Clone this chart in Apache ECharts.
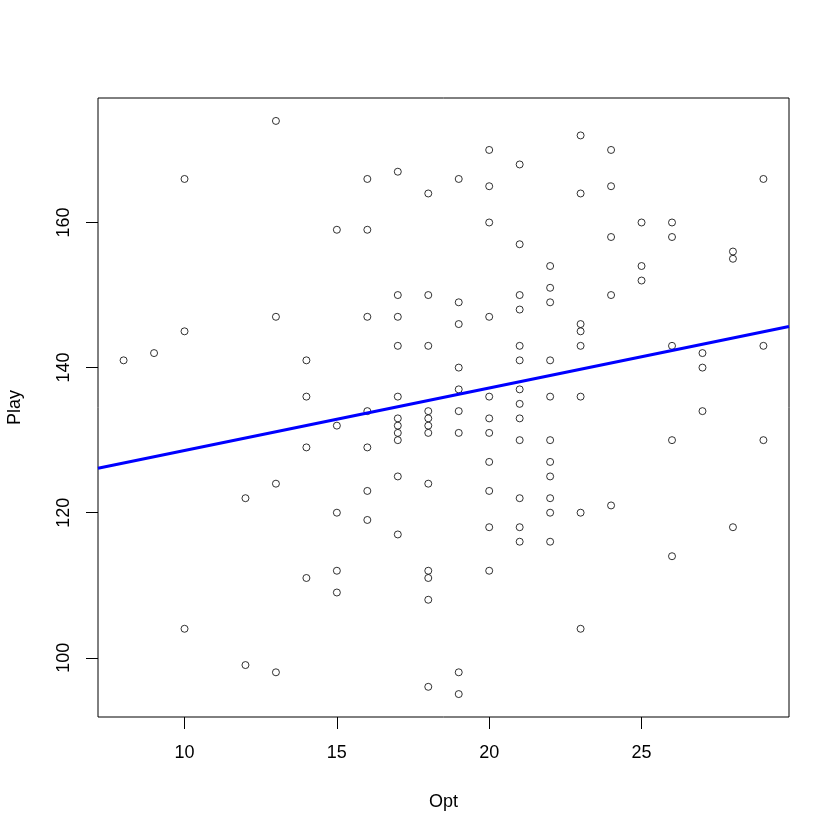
<!DOCTYPE html>
<html><head><meta charset="utf-8">
<script src="https://cdn.jsdelivr.net/npm/echarts@6/dist/echarts.min.js"></script>
<style>html,body{margin:0;padding:0;background:#fff}#c{width:840px;height:840px}</style>
</head><body><div id="c"></div>
<script>
const opt = [
  8, 9, 10, 10, 10, 12, 12, 13, 13, 13, 13, 14, 14, 14, 14,
  15, 15, 15, 15, 15,
  16, 16, 16, 16, 16, 16, 16,
  17, 17, 17, 17, 17, 17, 17, 17, 17, 17, 17,
  18, 18, 18, 18, 18, 18, 18, 18, 18, 18, 18, 18,
  19, 19, 19, 19, 19, 19, 19, 19, 19,
  20, 20, 20, 20, 20, 20, 20, 20, 20, 20, 20,
  21, 21, 21, 21, 21, 21, 21, 21, 21, 21, 21, 21, 21,
  22, 22, 22, 22, 22, 22, 22, 22, 22, 22, 22,
  23, 23, 23, 23, 23, 23, 23, 23,
  24, 24, 24, 24, 24,
  25, 25, 25,
  26, 26, 26, 26, 26,
  27, 27, 27,
  28, 28, 28,
  29, 29, 29
];
const play = [
  141, 142, 166, 145, 104, 122, 99, 174, 147, 124, 98, 141, 136, 129, 111,
  159, 132, 120, 112, 109,
  166, 159, 147, 134, 129, 123, 119,
  167, 150, 147, 143, 136, 133, 132, 131, 130, 125, 117,
  164, 150, 143, 134, 133, 132, 131, 124, 112, 111, 108, 96,
  166, 149, 146, 140, 137, 134, 131, 98, 95,
  170, 165, 160, 147, 136, 133, 131, 127, 123, 118, 112,
  168, 157, 150, 148, 143, 141, 137, 135, 133, 130, 122, 118, 116,
  154, 151, 149, 141, 136, 130, 127, 125, 122, 120, 116,
  172, 164, 146, 145, 143, 136, 120, 104,
  170, 165, 158, 150, 121,
  160, 154, 152,
  160, 158, 143, 130, 114,
  142, 140, 134,
  156, 155, 118,
  166, 143, 130
];
const xTicks = [10, 15, 20, 25];
const yTicks = [100, 120, 140, 160];
const xLimits = [7.16, 29.84];
const yLimits = [91.84, 177.16];
const xName = 'Opt';
const yName = 'Play';

// least-squares fit (abline(lm(Play ~ Opt)))
const n = opt.length;
const mx = opt.reduce((s, v) => s + v, 0) / n;
const my = play.reduce((s, v) => s + v, 0) / n;
let sxy = 0, sxx = 0;
for (let i = 0; i < n; i++) { sxy += (opt[i] - mx) * (play[i] - my); sxx += (opt[i] - mx) * (opt[i] - mx); }
const slope = sxy / sxx;
const intercept = my - slope * mx;
const fitLine = xLimits.map(x => [x, intercept + slope * x]);

const points = opt.map((x, i) => [x, play[i]]);
const FONT = '"Liberation Sans", Arial, sans-serif';

const chart = echarts.init(document.getElementById('c'), null, { renderer: 'canvas' });
chart.setOption({
  animation: false,
  backgroundColor: '#fff',
  textStyle: { fontFamily: FONT, color: '#000' },
  grid: {
    left: 98, right: 51, top: 98, bottom: 123,
    show: true, borderColor: '#000', borderWidth: 1, backgroundColor: 'transparent',
    outerBoundsMode: 'none'
  },
  xAxis: {
    type: 'value', min: xLimits[0], max: xLimits[1],
    name: xName, nameLocation: 'middle', nameGap: 76,
    nameTextStyle: { fontFamily: FONT, fontSize: 18, color: '#000' },
    axisLine: { show: false },
    splitLine: { show: false },
    axisTick: { show: true, inside: false, length: 12, customValues: xTicks, lineStyle: { color: '#000', width: 1 } },
    axisLabel: { show: true, margin: 27, customValues: xTicks, fontFamily: FONT, fontSize: 18, color: '#000' }
  },
  yAxis: {
    type: 'value', min: yLimits[0], max: yLimits[1],
    name: yName, nameLocation: 'middle', nameGap: 74,
    nameTextStyle: { fontFamily: FONT, fontSize: 18, color: '#000' },
    axisLine: { show: false },
    splitLine: { show: false },
    axisTick: { show: true, inside: false, length: 12, customValues: yTicks, lineStyle: { color: '#000', width: 1 } },
    axisLabel: { show: true, margin: 25, rotate: 90, customValues: yTicks, fontFamily: FONT, fontSize: 18, color: '#000' }
  },
  series: [
    {
      type: 'scatter', data: points, symbol: 'circle', symbolSize: 7,
      itemStyle: { color: 'rgba(0,0,0,0)', borderColor: '#000', borderWidth: 1 },
      silent: true
    },
    {
      type: 'line', data: fitLine, symbol: 'none', clip: true, silent: true,
      lineStyle: { color: '#0000FF', width: 3 }
    }
  ]
});
</script>
</body></html>
